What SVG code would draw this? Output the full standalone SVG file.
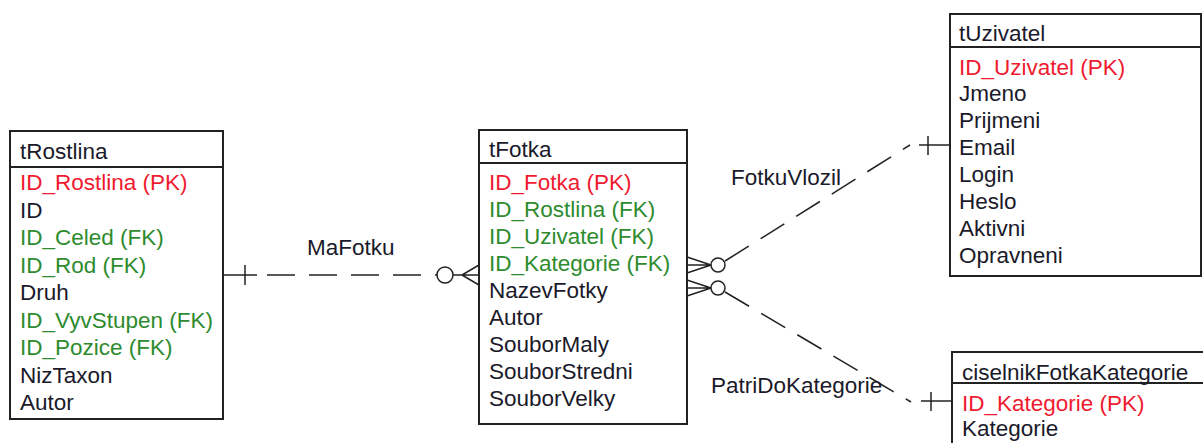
<svg xmlns="http://www.w3.org/2000/svg" width="1203" height="443" viewBox="0 0 1203 443">
<style>
.box{fill:#fff;stroke:#222;stroke-width:2}
.sep{stroke:#222;stroke-width:2}
text{font-family:"Liberation Sans",Arial,sans-serif;font-size:22.5px;fill:#1a1a2a}
.pk{fill:#f01a30}
.fk{fill:#2e8b2e}
.ln{stroke:#222;stroke-width:1.5;fill:none}
.dash{stroke:#222;stroke-width:1.5;fill:none;stroke-dasharray:28 14}
.circ{stroke:#222;stroke-width:1.5;fill:#fff}
</style>
<rect width="1203" height="443" fill="#fff"/>
<g id="connectors">
  <!-- MaFotku -->
  <line class="ln" x1="223" y1="275" x2="257" y2="275"/>
  <line class="ln" x1="245" y1="265" x2="245" y2="285"/>
  <line class="dash" x1="267" y1="275" x2="437" y2="275"/>
  <circle class="circ" cx="445" cy="275" r="8"/>
  <path class="ln" d="M453 275 L479 275 M462 275 L479 265 M462 275 L479 285"/>
  <text x="307" y="255">MaFotku</text>
  <!-- FotkuVlozil -->
  <path class="ln" d="M711 265 L687 257 M711 265 L687 265 M711 265 L687 273"/>
  <circle class="circ" cx="718" cy="265" r="7"/>
  <line class="dash" x1="725" y1="261" x2="910" y2="145"/>
  <line class="ln" x1="919" y1="145" x2="950" y2="145"/>
  <line class="ln" x1="928" y1="136" x2="928" y2="155"/>
  <text x="731" y="185">FotkuVlozil</text>
  <!-- PatriDoKategorie -->
  <path class="ln" d="M711 288 L687 280 M711 288 L687 288 M711 288 L687 296"/>
  <circle class="circ" cx="718" cy="288" r="7"/>
  <line class="dash" x1="725" y1="292" x2="911" y2="402"/>
  <line class="ln" x1="921" y1="401" x2="952" y2="401"/>
  <line class="ln" x1="931" y1="392" x2="931" y2="411"/>
  <text x="711" y="393">PatriDoKategorie</text>
</g>
<g id="tRostlina">
  <rect class="box" x="10" y="131" width="213" height="288"/>
  <line class="sep" x1="10" y1="167" x2="223" y2="167"/>
  <text x="20" y="159">tRostlina</text>
  <text x="20" y="190" class="pk">ID_Rostlina (PK)</text>
  <text x="20" y="217.5">ID</text>
  <text x="20" y="245" class="fk">ID_Celed (FK)</text>
  <text x="20" y="272.5" class="fk">ID_Rod (FK)</text>
  <text x="20" y="300">Druh</text>
  <text x="20" y="327.5" class="fk">ID_VyvStupen (FK)</text>
  <text x="20" y="355" class="fk">ID_Pozice (FK)</text>
  <text x="20" y="382.5">NizTaxon</text>
  <text x="20" y="410">Autor</text>
</g>
<g id="tFotka">
  <rect class="box" x="479" y="130" width="208" height="294"/>
  <line class="sep" x1="479" y1="163" x2="687" y2="163"/>
  <text x="489" y="157">tFotka</text>
  <text x="489" y="189.5" class="pk">ID_Fotka (PK)</text>
  <text x="489" y="216.6" class="fk">ID_Rostlina (FK)</text>
  <text x="489" y="243.7" class="fk">ID_Uzivatel (FK)</text>
  <text x="489" y="270.8" class="fk">ID_Kategorie (FK)</text>
  <text x="489" y="297.9">NazevFotky</text>
  <text x="489" y="325">Autor</text>
  <text x="489" y="352.1">SouborMaly</text>
  <text x="489" y="379.2">SouborStredni</text>
  <text x="489" y="406.3">SouborVelky</text>
</g>
<g id="tUzivatel">
  <rect class="box" x="950" y="14" width="251" height="262"/>
  <line class="sep" x1="950" y1="47" x2="1201" y2="47"/>
  <text x="959" y="41">tUzivatel</text>
  <text x="959" y="74.5" class="pk">ID_Uzivatel (PK)</text>
  <text x="959" y="101.4">Jmeno</text>
  <text x="959" y="128.3">Prijmeni</text>
  <text x="959" y="155.2">Email</text>
  <text x="959" y="182.1">Login</text>
  <text x="959" y="209">Heslo</text>
  <text x="959" y="235.9">Aktivni</text>
  <text x="959" y="262.8">Opravneni</text>
</g>
<g id="ciselnikFotkaKategorie">
  <rect class="box" x="952" y="352" width="260" height="110"/>
  <line class="sep" x1="952" y1="383" x2="1212" y2="383"/>
  <text x="962" y="379.5">ciselnikFotkaKategorie</text>
  <text x="962" y="411" class="pk">ID_Kategorie (PK)</text>
  <text x="962" y="436">Kategorie</text>
</g>
</svg>
